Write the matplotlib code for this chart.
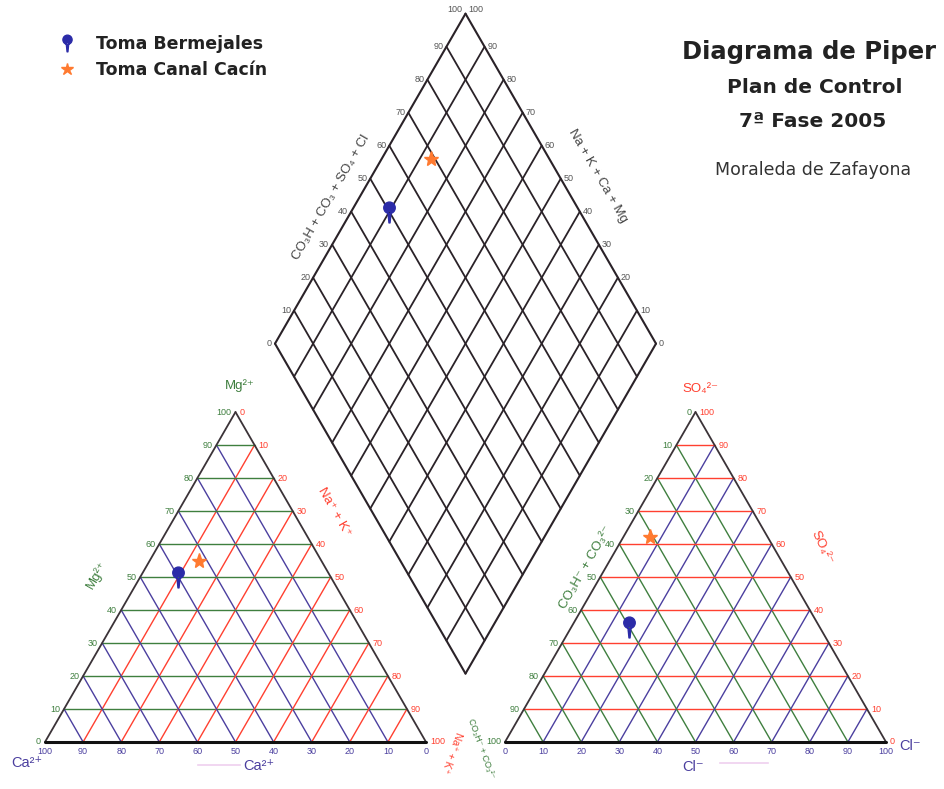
import numpy as np
import matplotlib.pyplot as plt
from matplotlib.path import Path

muestras = ['Toma Bermejales', 'Toma Canal Cacín']
colores = ['#2b2ba8', '#ff7a30']
ca = np.array([40, 32])
mg = np.array([50, 55])
nak = np.array([10, 13])
hco3 = np.array([50, 31])
so4 = np.array([35, 62])
cl = np.array([15, 7])
ticks = np.arange(0, 101, 10)

GREEN = '#3f7f3f'
BLUE = '#4b3f9f'
RED = '#ff4030'
EDGE = '#3b3338'
TICKFONT = ['Liberation Sans', 'DejaVu Sans']
TS = 6.5

# geometria (en pixeles de la figura)
L = 381.0
H = L * np.sqrt(3) / 2
GAP = 79.0
X0, Y0 = 45.0, 742.0
X1 = X0 + L + GAP


def cat_xy(c, m, n):
    c, m, n = np.asarray(c, float), np.asarray(m, float), np.asarray(n, float)
    return X0 + L * (n + m / 2) / 100, Y0 - H * m / 100


def an_xy(co, s, c):
    co, s, c = np.asarray(co, float), np.asarray(s, float), np.asarray(c, float)
    return X1 + L * (c + s / 2) / 100, Y0 - H * s / 100


def dia_xy(a, b):
    a, b = np.asarray(a, float), np.asarray(b, float)
    bx = X0 + L + GAP / 2
    by = Y0 - GAP * np.sqrt(3) / 2
    return bx + (a - b) / 100 * L / 2, by - (a + b) / 100 * H


def seg(ax, p, q, **kw):
    ax.plot([p[0], q[0]], [p[1], q[1]], solid_capstyle='round', **kw)


def pin_marker():
    head = Path.circle((0, 0.45), 0.55)
    stem = Path([(-0.16, 0.1), (0.16, 0.1), (0.05, -1.0), (-0.05, -1.0), (0, 0)], closed=True)
    return Path.make_compound_path(head, stem)


fig = plt.figure(figsize=(9.45, 7.89), dpi=100)
ax = fig.add_axes([0, 0, 1, 1])
ax.set_xlim(0, 945)
ax.set_ylim(789, 0)
ax.axis('off')

# ---- triangulo de cationes
for v in ticks[1:-1]:
    seg(ax, cat_xy(100 - v, v, 0), cat_xy(0, v, 100 - v), color=GREEN, lw=1.0)
    seg(ax, cat_xy(v, 100 - v, 0), cat_xy(v, 0, 100 - v), color=BLUE, lw=1.0)
    seg(ax, cat_xy(100 - v, 0, v), cat_xy(0, 100 - v, v), color=RED, lw=1.0)
seg(ax, cat_xy(100, 0, 0), cat_xy(0, 100, 0), color=EDGE, lw=1.3)
seg(ax, cat_xy(0, 100, 0), cat_xy(0, 0, 100), color=EDGE, lw=1.3)
seg(ax, cat_xy(100, 0, 0), cat_xy(0, 0, 100), color='#111111', lw=2.2)
for v in ticks:
    x, y = cat_xy(100 - v, v, 0)
    ax.text(x - 4, y, str(v), ha='right', va='center', color=GREEN, fontsize=TS, family=TICKFONT)
    x, y = cat_xy(0, 100 - v, v)
    ax.text(x + 4, y, str(v), ha='left', va='center', color=RED, fontsize=TS, family=TICKFONT)
    x, y = cat_xy(v, 0, 100 - v)
    ax.text(x, y + 9, str(v), ha='center', va='center', color=BLUE, fontsize=TS, family=TICKFONT)

ax.text(240, 386, 'Mg²⁺', color=GREEN, fontsize=9.5, ha='center', va='center', family=TICKFONT)
ax.text(97, 575, 'Mg²⁺', color=GREEN, fontsize=9.5, rotation=60, ha='center', va='center', family=TICKFONT)
ax.text(334, 512, 'Na⁺ + K⁺', color=RED, fontsize=9.5, rotation=-60, ha='center', va='center', family=TICKFONT)
ax.text(27, 763, 'Ca²⁺', color=BLUE, fontsize=10.5, ha='center', va='center', family=TICKFONT)
ax.text(259, 766, 'Ca²⁺', color=BLUE, fontsize=10.5, ha='center', va='center', family=TICKFONT)
ax.plot([198, 240], [765, 765], color='#efd0ef', lw=1.2)

# ---- triangulo de aniones
for v in ticks[1:-1]:
    seg(ax, an_xy(100 - v, v, 0), an_xy(0, v, 100 - v), color=RED, lw=1.0)
    seg(ax, an_xy(v, 100 - v, 0), an_xy(v, 0, 100 - v), color=GREEN, lw=1.0)
    seg(ax, an_xy(100 - v, 0, v), an_xy(0, 100 - v, v), color=BLUE, lw=1.0)
seg(ax, an_xy(100, 0, 0), an_xy(0, 100, 0), color=EDGE, lw=1.3)
seg(ax, an_xy(0, 100, 0), an_xy(0, 0, 100), color=EDGE, lw=1.3)
seg(ax, an_xy(100, 0, 0), an_xy(0, 0, 100), color='#111111', lw=2.2)
for v in ticks:
    x, y = an_xy(v, 100 - v, 0)
    ax.text(x - 4, y, str(v), ha='right', va='center', color=GREEN, fontsize=TS, family=TICKFONT)
    x, y = an_xy(0, v, 100 - v)
    ax.text(x + 4, y, str(v), ha='left', va='center', color=RED, fontsize=TS, family=TICKFONT)
    x, y = an_xy(100 - v, 0, v)
    ax.text(x, y + 9, str(v), ha='center', va='center', color=BLUE, fontsize=TS, family=TICKFONT)

ax.text(700, 389, 'SO₄²⁻', color=RED, fontsize=9.5, ha='center', va='center', family=TICKFONT)
ax.text(822, 548, 'SO₄²⁻', color=RED, fontsize=9.5, rotation=-65, ha='center', va='center', family=TICKFONT)
ax.text(586, 568, 'CO₃H⁻ + CO₃²⁻', color=GREEN, fontsize=9.5, rotation=60, ha='center', va='center', family=TICKFONT)
ax.text(693, 767, 'Cl⁻', color=BLUE, fontsize=10.5, ha='center', va='center', family=TICKFONT)
ax.text(910, 746, 'Cl⁻', color=BLUE, fontsize=10.5, ha='center', va='center', family=TICKFONT)
ax.plot([720, 768], [763, 763], color='#efd0ef', lw=1.2)

# etiquetas entre los triangulos
ax.text(451, 752, 'Na⁺ + K⁺', color=RED, fontsize=7.5, rotation=-110, ha='center', va='center', family=TICKFONT)
ax.text(481, 749, 'CO₃H⁻ + CO₃²⁻', color=GREEN, fontsize=6.5, rotation=-70, ha='center', va='center', family=TICKFONT)

# ---- rombo central
for v in ticks:
    lw = 1.5 if v in (0, 100) else 1.3
    seg(ax, dia_xy(v, 0), dia_xy(v, 100), color='#2a2228', lw=lw)
    seg(ax, dia_xy(0, v), dia_xy(100, v), color='#2a2228', lw=lw)
for v in ticks:
    x, y = dia_xy(v, 100)
    ax.text(x - 3, y, str(v), ha='right', va='bottom' if v == 100 else 'center', color='#555555', fontsize=TS, family=TICKFONT)
    x, y = dia_xy(100, v)
    ax.text(x + 3, y, str(v), ha='left', va='bottom' if v == 100 else 'center', color='#555555', fontsize=TS, family=TICKFONT)
ax.text(331, 197, 'CO₃H + CO₃ + SO₄ + Cl', color='#444444', fontsize=9.5, rotation=60, ha='center', va='center', family=TICKFONT)
ax.text(598, 176, 'Na + K + Ca + Mg', color='#444444', fontsize=9.5, rotation=-60, ha='center', va='center', family=TICKFONT)

# ---- muestras
marcas = [pin_marker(), '*']
tam = [15, 11]
for i, nombre in enumerate(muestras):
    cx, cy = cat_xy(ca[i], mg[i], nak[i])
    axx, axy = an_xy(hco3[i], so4[i], cl[i])
    dx, dy = dia_xy(so4[i] + cl[i], ca[i] + mg[i])
    ax.plot([cx, axx, dx], [cy, axy, dy], ls='none', marker=marcas[i], ms=tam[i],
            color=colores[i], mec=colores[i], label=nombre, zorder=5)

ax.legend(loc='upper left', bbox_to_anchor=(0.045, 0.975), frameon=False, numpoints=1,
          prop={'family': 'DejaVu Sans', 'weight': 'bold', 'size': 12.5},
          handlelength=1.0, handletextpad=1.2, labelspacing=0.45, markerscale=0.8,
          labelcolor='#222222')

# ---- titulo
ax.text(809, 52, 'Diagrama de Piper', ha='center', va='center', fontsize=17.5, fontweight='bold',
        color='#222222', family='DejaVu Sans')
ax.text(815, 87, 'Plan de Control', ha='center', va='center', fontsize=14.5, fontweight='bold',
        color='#222222', family='DejaVu Sans')
ax.text(813, 121, '7ª Fase 2005', ha='center', va='center', fontsize=14.5, fontweight='bold',
        color='#222222', family='DejaVu Sans')
ax.text(813, 170, 'Moraleda de Zafayona', ha='center', va='center', fontsize=12.5,
        color='#333333', family='DejaVu Sans')

fig.savefig('out.png', dpi=100)
